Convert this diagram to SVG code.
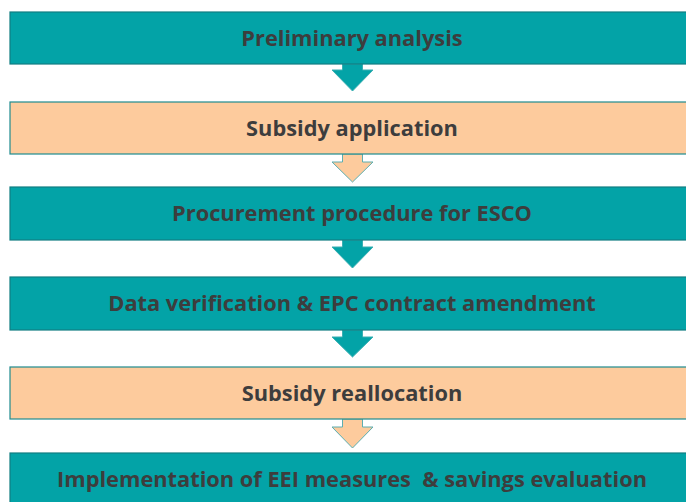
<svg xmlns="http://www.w3.org/2000/svg" width="686" height="502" viewBox="0 0 686 502">
<style>
.teal{fill:#03A3A7;stroke:#117E82;stroke-width:1.2}
.peach{fill:#FDCB9D;stroke:#1E8C8F;stroke-width:1.2}
.at{fill:#03A3A7;stroke:#3AAFB2;stroke-width:1}
.ap{fill:#FDCB9D;stroke:#5DAEB0;stroke-width:1}
text{font-family:"Open Sans","Liberation Sans",sans-serif;font-weight:700;font-size:21.8px;fill:#3D3D3D;text-anchor:middle;dominant-baseline:central}
</style>
<rect width="686" height="502" fill="#fff"/>
<g id="connectors">
<polygon class="at" points="342.5,64 362.5,64 362.5,70 373,70 352.5,91 332,70 342.5,70"/>
<polygon class="ap" points="342.5,154 362.5,154 362.5,162 373,162 352.5,182 332,162 342.5,162"/>
<polygon class="at" points="342.5,240 362.5,240 362.5,247 373,247 352.5,268 332,247 342.5,247"/>
<polygon class="at" points="342.5,330 362.5,330 362.5,337 373,337 352.5,357 332,337 342.5,337"/>
<polygon class="ap" points="342.5,419 362.5,419 362.5,427 373,427 352.5,448 332,427 342.5,427"/>
</g>
<g id="n1"><rect class="teal" x="10" y="12" width="690" height="52"/><text x="352" y="37.5">Preliminary analysis</text></g>
<g id="n2"><rect class="peach" x="10" y="102" width="690" height="52"/><text x="352" y="127.5">Subsidy application</text></g>
<g id="n3"><rect class="teal" x="10" y="187" width="690" height="53"/><text x="352" y="212.5">Procurement procedure for ESCO</text></g>
<g id="n4"><rect class="teal" x="10" y="277" width="690" height="53"/><text x="352" y="302.5">Data verification &amp; EPC contract amendment</text></g>
<g id="n5"><rect class="peach" x="10" y="367" width="690" height="52"/><text x="352" y="392.5">Subsidy reallocation</text></g>
<g id="n6"><rect class="teal" x="10" y="453" width="690" height="60"/><text x="352" y="478.5" xml:space="preserve">Implementation of EEI measures  &amp; savings evaluation</text></g>
</svg>
